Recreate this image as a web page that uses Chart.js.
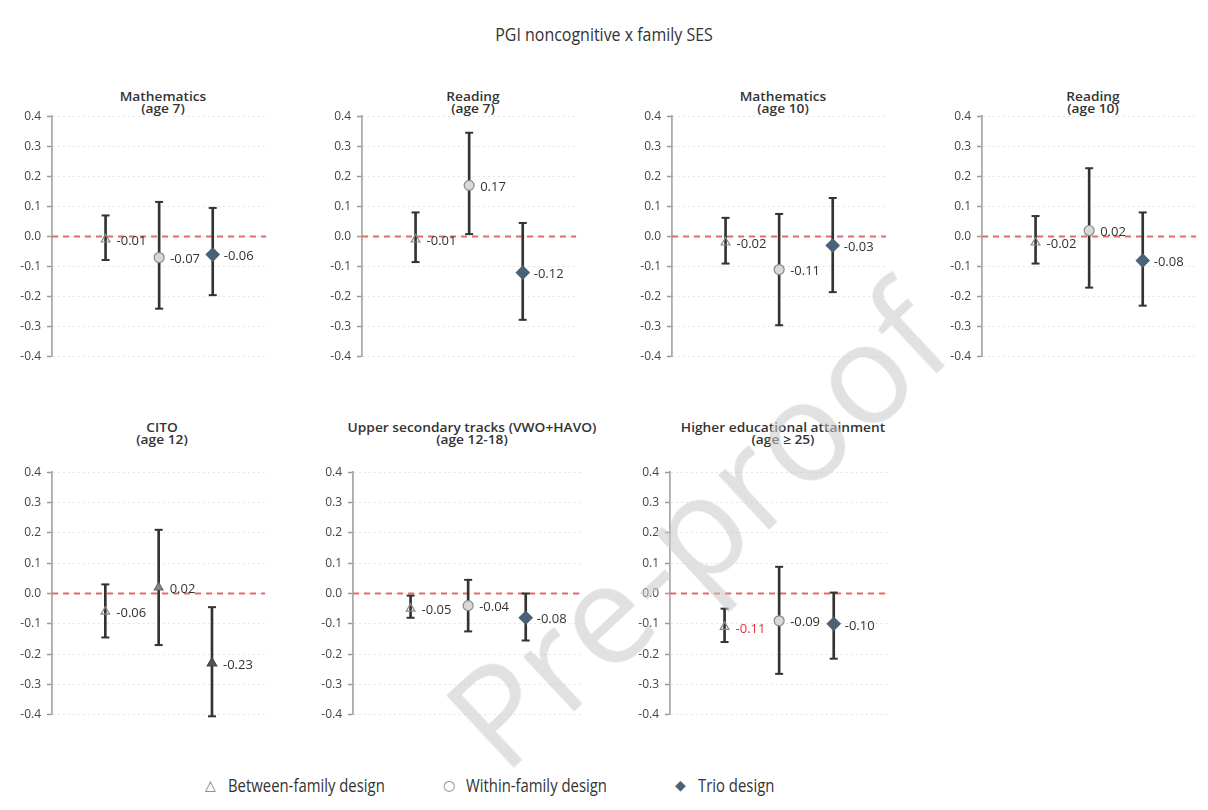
<!DOCTYPE html>
<html>
<head>
<meta charset="utf-8">
<script src="https://cdn.jsdelivr.net/npm/chart.js@4.4.0/dist/chart.umd.min.js"></script>
<style>
body{margin:0;background:#fff;width:1208px;height:810px;position:relative;overflow:hidden;font-family:"Open Sans",sans-serif;color:#333}
canvas{position:absolute}
.ptitle{position:absolute;text-align:center;font-size:12.5px;line-height:12px;font-weight:600;color:#333;white-space:nowrap;transform:translateX(-50%) scaleX(1.1)}
#title{position:absolute;top:21px;left:0;width:1208px;text-align:center;font-size:19px;font-weight:500;color:#333;transform:scaleX(0.84)}
.leg{position:absolute;top:772px;font-size:17.5px;color:#333;white-space:nowrap;line-height:26px}
.leg .txt{display:inline-block;transform:scaleX(0.85);transform-origin:left center}
.sym{display:inline-block;width:23px;font-family:"DejaVu Sans";font-size:14px;vertical-align:top}
#wm{position:absolute;left:695px;top:525px;transform:translate(-50%,-50%) rotate(-43deg);font-size:140px;line-height:1;color:rgba(200,200,200,0.55);white-space:nowrap;pointer-events:none}
</style>
</head>
<body>
<div id="title">PGI noncognitive x family SES</div>

<script>
// panel titles (two lines each)
var outcomes = ['Mathematics', 'Reading', 'Mathematics', 'Reading', 'CITO', 'Upper secondary tracks (VWO+HAVO)', 'Higher educational attainment'];
var ages = ['(age 7)', '(age 7)', '(age 10)', '(age 10)', '(age 12)', '(age 12-18)', '(age \u2265 25)'];
var designs = ['Between-family design', 'Within-family design', 'Trio design'];

// estimates and 95% CIs, one value per panel
var betweenEst = [-0.01, -0.01, -0.02, -0.02, -0.06, -0.05, -0.11];
var betweenLo  = [-0.078, -0.085, -0.09, -0.09, -0.145, -0.08, -0.16];
var betweenHi  = [0.07, 0.08, 0.062, 0.068, 0.03, -0.007, -0.05];
var withinEst  = [-0.07, 0.17, -0.11, 0.02, 0.02, -0.04, -0.09];
var withinLo   = [-0.24, 0.008, -0.295, -0.17, -0.17, -0.125, -0.265];
var withinHi   = [0.115, 0.345, 0.075, 0.227, 0.21, 0.045, 0.088];
var trioEst    = [-0.06, -0.12, -0.03, -0.08, -0.23, -0.08, -0.10];
var trioLo     = [-0.195, -0.277, -0.185, -0.23, -0.405, -0.155, -0.215];
var trioHi     = [0.095, 0.045, 0.128, 0.08, -0.045, 0.0, 0.003];

var yTicks = [-0.4, -0.3, -0.2, -0.1, 0.0, 0.1, 0.2, 0.3, 0.4];

// where each panel sits on the page
var boxes = [
  {axis: 52,  top: 103, w: 222, h: 267, ty: 91},
  {axis: 362, top: 103, w: 222, h: 267, ty: 91},
  {axis: 672, top: 103, w: 222, h: 267, ty: 91},
  {axis: 982, top: 103, w: 222, h: 267, ty: 91},
  {axis: 52,  top: 459, w: 220, h: 269, ty: 422},
  {axis: 353, top: 459, w: 238, h: 269, ty: 422},
  {axis: 670, top: 459, w: 226, h: 269, ty: 422}
];
var AXW = 52;

var markerStyles = [
  {pointStyle: 'triangle', radius: 5, bg: 'rgba(255,255,255,0)', border: '#888'},
  {pointStyle: 'circle', radius: 5, bg: '#d9d9d9', border: '#888'},
  {pointStyle: 'rectRot', radius: 6.5, bg: '#4a6178', border: '#4a6178'}
];
// the CITO panel uses triangles for every design
var citoStyles = [
  {pointStyle: 'triangle', radius: 5, bg: 'rgba(255,255,255,0)', border: '#888'},
  {pointStyle: 'triangle', radius: 5, bg: '#8a8a8a', border: '#666'},
  {pointStyle: 'triangle', radius: 5.5, bg: '#555', border: '#444'}
];

var valueLabels = {
  id: 'valueLabels',
  afterDatasetsDraw: function (chart) {
    var ctx = chart.ctx;
    chart.data.datasets.forEach(function (ds, i) {
      if (!ds.labelText) return;
      var meta = chart.getDatasetMeta(i);
      meta.data.forEach(function (el) {
        ctx.save();
        ctx.font = '13px "Open Sans"';
        ctx.fillStyle = ds.labelColor || '#333';
        ctx.textBaseline = 'middle';
        ctx.fillText(ds.labelText, el.x + 11, el.y + 2);
        ctx.restore();
      });
    });
  }
};

function fmt(v) { return v.toFixed(2); }

outcomes.forEach(function (name, p) {
  var b = boxes[p];
  var t = document.createElement('div');
  t.className = 'ptitle';
  t.style.left = (b.axis + b.w / 2) + 'px';
  t.style.top = b.ty + 'px';
  t.innerHTML = name + '<br>' + ages[p];
  document.body.appendChild(t);

  var cv = document.createElement('canvas');
  cv.width = AXW + b.w;
  cv.height = b.h;
  cv.style.left = (b.axis - AXW) + 'px';
  cv.style.top = b.top + 'px';
  document.body.appendChild(cv);

  var est = [betweenEst[p], withinEst[p], trioEst[p]];
  var lo = [betweenLo[p], withinLo[p], trioLo[p]];
  var hi = [betweenHi[p], withinHi[p], trioHi[p]];
  var styles = name === 'CITO' ? citoStyles : markerStyles;

  var datasets = [];
  datasets.push({
    type: 'line', label: 'zero', order: 6,
    data: [{x: 0, y: 0}, {x: 4, y: 0}],
    borderColor: '#e26b6b', borderWidth: 2, borderDash: [6, 5], pointRadius: 0
  });
  datasets.push({
    type: 'bar', label: 'ci', order: 5, clip: false,
    data: est.map(function (e, k) { return {x: k + 1, y: [lo[k], hi[k]]}; }),
    backgroundColor: '#333', barThickness: 2, grouped: false
  });
  datasets.push({
    type: 'scatter', label: 'caps', order: 4, clip: false,
    data: lo.map(function (v, k) { return {x: k + 1, y: v}; })
          .concat(hi.map(function (v, k) { return {x: k + 1, y: v}; })),
    pointStyle: 'line', pointRadius: 4, borderColor: '#333', borderWidth: 2
  });
  designs.forEach(function (d, k) {
    var s = styles[k];
    datasets.push({
      type: 'scatter', label: d, order: 1 + k,
      data: [{x: k + 1, y: est[k]}],
      pointStyle: s.pointStyle, pointRadius: s.radius,
      backgroundColor: s.bg, borderColor: s.border, borderWidth: 1.2,
      labelText: fmt(est[k]),
      labelColor: (p === 6 && k === 0) ? '#e0343c' : '#333'
    });
  });

  new Chart(cv.getContext('2d'), {
    type: 'scatter',
    data: {datasets: datasets},
    options: {
      responsive: false,
      animation: false,
      layout: {padding: {top: 8, bottom: 6, left: 0, right: 0}},
      plugins: {legend: {display: false}, tooltip: {enabled: false}},
      scales: {
        x: {type: 'linear', min: 0, max: 4, display: false, offset: false},
        y: {
          min: -0.4, max: 0.4,
          afterBuildTicks: function (s) { s.ticks = yTicks.map(function (v) { return {value: v}; }); },
          afterFit: function (s) { s.width = AXW; },
          ticks: {
            color: '#444', padding: 6, font: {family: 'Open Sans', size: 12},
            callback: function (v) { return Math.abs(v) < 1e-9 ? '0.0' : Number(v).toFixed(1); }
          },
          grid: {color: '#e4e4e4', lineWidth: 1, tickLength: 5, tickColor: '#999', tickWidth: 1.5, tickBorderDash: []},
          border: {color: '#aaa', width: 1.8, dash: [2, 3]}
        }
      }
    },
    plugins: [valueLabels]
  });
});

// legend along the bottom
var legX = [205, 443, 675];
var legSym = ['\u25B3', '\u25CB', '\u25C6'];
var legCol = ['#777', '#888', '#4a6178'];
designs.forEach(function (d, k) {
  var el = document.createElement('div');
  el.className = 'leg';
  el.style.left = legX[k] + 'px';
  el.innerHTML = '<span class="sym" style="color:' + legCol[k] + '">' + legSym[k] + '</span><span class="txt">' + d + '</span>';
  document.body.appendChild(el);
});

var wm = document.createElement('div');
wm.id = 'wm';
wm.textContent = 'Pre-proof';
document.body.appendChild(wm);
</script>
</body>
</html>
